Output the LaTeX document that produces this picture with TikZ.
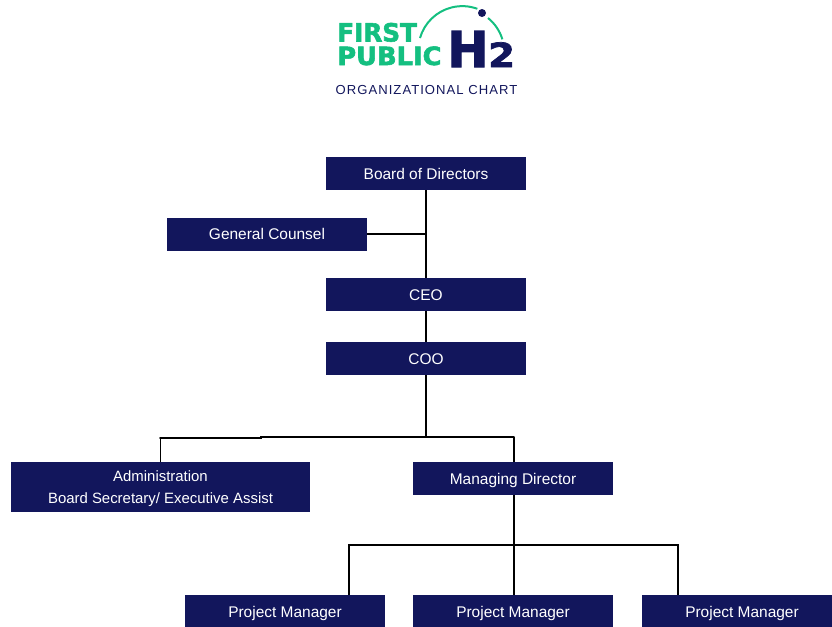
\documentclass[tikz,border=0pt]{standalone}
\usepackage{fontspec}
\setmainfont{Liberation Sans}
\newfontfamily\logofont[FakeBold=2.2]{DejaVu Sans Bold}
\newfontfamily\spacedfont[LetterSpace=8]{Liberation Sans}
\definecolor{boardnavy}{HTML}{12165C}
\definecolor{logogreen}{HTML}{14BF80}
\begin{document}
\begin{tikzpicture}
[x=0.75pt,y=-0.75pt,
  chartbox/.style={shape=rectangle,fill=boardnavy,text=white,minimum width=150pt,minimum height=24.75pt,inner sep=0pt,align=center,font=\fontsize{11.6}{16.5}\selectfont},%
  singlebox/.style={chartbox,text height=10pt,text depth=1.6pt},%
  chartline/.style={-,line width=1.4pt,black},%
  logotext/.style={inner sep=0pt,anchor=base west,text=logogreen,font=\logofont\fontsize{18.8}{20}\selectfont}]
\useasboundingbox (0,0) rectangle (832,626);
\clip (0,0) rectangle (832,626);
%% logo and title
\node (first) at (337,41.5) [logotext,xscale=0.985] {FIRST};
\node (public) at (337,65) [logotext,xscale=1.027] {PUBLIC};
\node (bigh) at (447,67) [logotext,text=boardnavy,font=\logofont\fontsize{37}{37}\selectfont] {H};
\node (two) at (488,67) [logotext,text=boardnavy,xscale=1.15,font=\logofont\fontsize{25}{25}\selectfont] {2};
\draw[logogreen,line width=1.5pt] (420,38) arc[start angle=164,end angle=70,radius=33pt];
\draw[logogreen,line width=1.5pt] (488,18) arc[start angle=51,end angle=17,radius=33pt];
\node (dot) at (482,13) [shape=circle,fill=boardnavy,inner sep=0pt,minimum size=6pt] {};
\node (title) at (426.5,90) [inner sep=0pt,text=boardnavy,font=\spacedfont\fontsize{9.8}{11}\selectfont] {ORGANIZATIONAL CHART};
%% boxes
\foreach \nodename/\x/\y/\boxtext in {board/426/173.5/Board of Directors, counsel/267/234/General Counsel,
  ceo/426/294.5/CEO, coo/426/358.5/COO, director/513/478.5/Managing Director,
  pma/285/611.5/Project Manager, pmb/513/611.5/Project Manager, pmc/742/611.5/Project Manager} {
  \node (\nodename) at (\x,\y) [singlebox] {\boxtext};
}
\node (admin) at (160.5,487) [chartbox,font=\fontsize{11.2}{16.5}\selectfont,text depth=0pt,minimum width=224.25pt,minimum height=37.5pt] {Administration\\Board Secretary/ Executive Assist};
%% joints
\foreach \nodename/\x/\y in {counseljoin/426/234, cooknee/426/437, jog/261/437, adminknee/160/438, directorknee/514/437,
  busmid/514/545, busleft/349/545, busright/678/545, dropleft/349/595, dropright/678/595} {
  \coordinate (\nodename) at (\x,\y);
}
%% connectors
\draw[chartline] (board) -- (ceo);
\draw[chartline] (counsel) -- (counseljoin);
\draw[chartline] (ceo) -- (coo);
\draw[chartline] (coo) -- (cooknee);
\draw[chartline] (directorknee) -- (directorknee |- director.north);
\draw[chartline] (adminknee -| admin.north) -- (admin.north);
\draw[chartline,line cap=round] (adminknee) -- (jog |- adminknee) -- (jog) -- (cooknee) -- (directorknee);
\draw[chartline] (busmid |- director.south) -- (busmid |- pmb.north);
\draw[chartline] (dropleft) -- (busleft) -- (busright) -- (dropright);
\end{tikzpicture}
\end{document}
